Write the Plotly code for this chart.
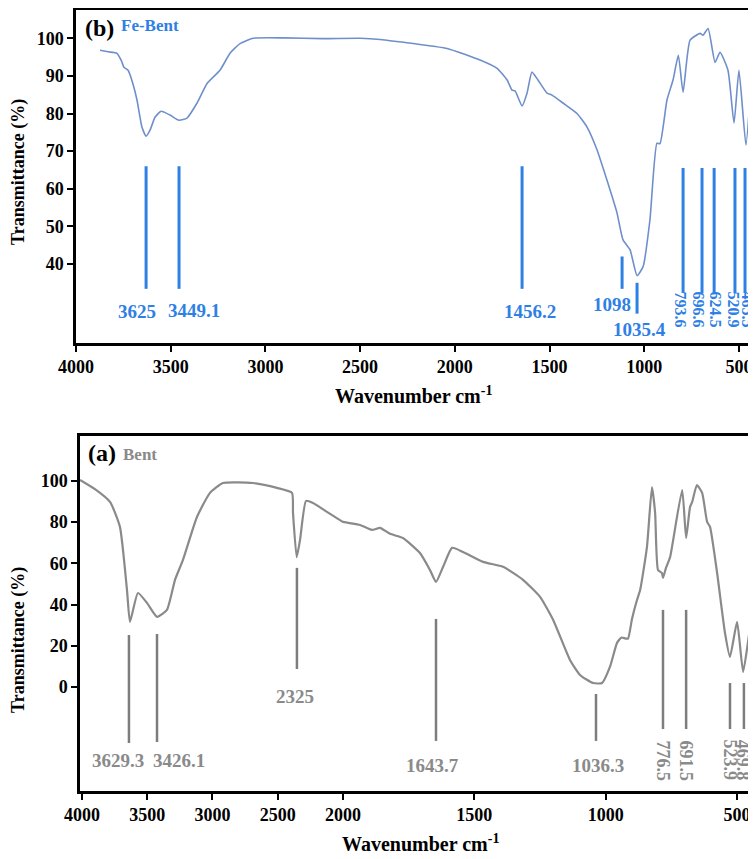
import plotly.graph_objects as go

# ---------------- data: Fe-Bent (top panel, b) ----------------
fe_wavenumber = [3873, 3830, 3784, 3760, 3747, 3725, 3700, 3678, 3652, 3630, 3609, 3583, 3551,
                 3504, 3456, 3414, 3361, 3308, 3240, 3187, 3134, 3065, 2900, 2700, 2500, 2395,
                 2220, 2041, 1867, 1777, 1724, 1698, 1682, 1645, 1619, 1593, 1561, 1513, 1487,
                 1429, 1355, 1302, 1249, 1197, 1144, 1112, 1075, 1038, 1006, 970, 933, 917, 880,
                 848, 820, 795, 758, 705, 690, 663, 626, 600, 558, 526, 500, 463, 431, 410]
fe_transmittance = [96.8, 96.4, 96.0, 94.0, 92.3, 91.5, 88.0, 83.6, 76.4, 74.0, 75.6, 79.0, 80.6,
                    79.6, 78.2, 78.8, 82.8, 88.0, 91.5, 96.0, 98.6, 100.0, 100.1, 99.9, 100.0, 99.7,
                    98.6, 97.3, 94.2, 92.0, 88.9, 86.2, 86.0, 82.0, 85.4, 91.0, 88.9, 85.4, 84.9,
                    82.8, 80.0, 76.4, 70.3, 62.3, 53.6, 46.4, 43.8, 36.9, 39.3, 51.7, 72.1, 72.0, 83.6,
                    88.9, 95.5, 85.7, 99.5, 101.3, 100.8, 102.6, 93.6, 96.3, 91.5, 77.5, 91.5, 71.6, 92.3, 107.4]

fe_peak_pos = [3630, 3456, 1645, 1117, 1038, 795, 695, 631, 521, 468]
fe_peak_top = [66, 66, 66, 42, 35, 65.5, 65.5, 65.5, 65.5, 65.5]
fe_peak_bottom = [33.4, 33.4, 33.4, 33.4, 26.8, 32.3, 32.3, 32.3, 32.3, 32.3]

fe_flat_labels = ["3625", "3449.1", "1456.2", "1098", "1035.4"]
fe_flat_label_x = [3678, 3377, 1603, 1170, 1027]
fe_flat_label_y = [27.3, 27.6, 27.3, 29.2, 22.5]
fe_rot_labels = ["793.6", "696.6", "624.5", "520.9", "465.5"]
fe_rot_label_x = [811, 716, 626, 531, 457]

# ---------------- data: Bent (bottom panel, a) ----------------
bent_wavenumber = [4015, 3900, 3785, 3709, 3655, 3632, 3571, 3502, 3425, 3349, 3287, 3226, 3119,
                   3019, 2919, 2690, 2506, 2391, 2383, 2355, 2329, 2283, 2230, 2123, 2000, 1935,
                   1890, 1859, 1821, 1772, 1707, 1669, 1646, 1619, 1585, 1543, 1467, 1391, 1315,
                   1250, 1200, 1136, 1098, 1048, 1014, 984, 957, 940, 925, 915, 900, 881, 869, 843,
                   824, 812, 801, 786, 782, 770, 755, 709, 694, 679, 671, 653, 633, 614, 603, 576,
                   546, 527, 500, 477, 450, 428]
bent_transmittance = [100.5, 96.0, 89.8, 77.7, 47.0, 31.6, 45.6, 40.8, 34.0, 37.4, 52.0, 61.7, 82.5,
                      94.2, 99.0, 99.0, 96.6, 94.2, 84.5, 63.0, 71.4, 90.3, 89.3, 85.0, 80.1, 78.6,
                      76.2, 77.2, 74.3, 72.3, 65.0, 56.8, 51.0, 58.3, 67.5, 65.5, 60.7, 58.3, 52.0,
                      43.7, 32.5, 13.1, 5.8, 1.9, 1.9, 9.7, 21.4, 24.0, 23.5, 23.5, 33.0, 42.2, 47.0, 68.0,
                      97.0, 84.5, 56.8, 55.3, 52.9, 58.0, 63.0, 95.6, 72.3, 87.4, 89.8, 98.0, 94.2, 80.1, 77.7, 55.3,
                      26.2, 14.6, 31.6, 7.3, 29.1, 40.8]

bent_left_peak_pos = [3640, 3425, 2353]
bent_left_peak_top = [25.2, 25.7, 57.8]
bent_left_peak_bottom = [-27.2, -26.7, 8.7]
bent_right_peak_pos = [1646, 1037, 782, 694, 527, 474]
bent_right_peak_top = [33.0, -3.4, 37.4, 37.4, 1.9, 1.9]
bent_right_peak_bottom = [-26.2, -26.2, -20.4, -20.4, -20.4, -20.4]

bent_left_labels = ["3629.3", "3426.1", "2325"]
bent_left_label_x = [3724, 3257, 2368]
bent_left_label_y = [-35.9, -35.9, -4.4]
bent_right_labels = ["1643.7", "1036.3"]
bent_right_label_x = [1661, 1029]
bent_right_label_y = [-37.9, -37.9]
bent_rot_labels = ["776.5", "691.5", "523.9", "469.8"]
bent_rot_label_x = [782, 694, 527, 474]

top_xticks = [4000, 3500, 3000, 2500, 2000, 1500, 1000, 500]
top_yticks = [40, 50, 60, 70, 80, 90, 100]
bot_xticks_left = [4000, 3500, 3000, 2500, 2000]
bot_xticks_right = [1500, 1000, 500]
bot_yticks = [0, 20, 40, 60, 80, 100]

# ---------------- geometry (page has an 8px body margin) ----------------
OFF = 8
W, H = 756 - OFF, 859 - OFF


def fx(px):
    return (px - OFF) / W


def fy(py):
    return 1 - (py - OFF) / H


SERIF = "Liberation Serif"
BLUE = "#2f80e4"
BLUE_LINE = "#6f8fcb"
GRAY = "#8a8a8a"
GRAY_LINE = "#7d7d7d"


def seg(xs, y0s, y1s):
    X, Y = [], []
    for x, a, b in zip(xs, y0s, y1s):
        X += [x, x, None]
        Y += [b, a, None]
    return X, Y


fig = go.Figure()

fig.add_trace(go.Scatter(x=fe_wavenumber, y=fe_transmittance, mode="lines",
                         line=dict(color=BLUE_LINE, width=1.6, shape="spline", smoothing=0.5),
                         xaxis="x", yaxis="y", showlegend=False, hoverinfo="skip"))
px_, py_ = seg(fe_peak_pos, fe_peak_top, fe_peak_bottom)
fig.add_trace(go.Scatter(x=px_, y=py_, mode="lines", line=dict(color=BLUE, width=3),
                         xaxis="x", yaxis="y", showlegend=False, hoverinfo="skip"))

for xa in ["x2", "x3"]:
    fig.add_trace(go.Scatter(x=bent_wavenumber, y=bent_transmittance, mode="lines",
                             line=dict(color=GRAY, width=2.2, shape="spline", smoothing=0.5),
                             xaxis=xa, yaxis="y2", showlegend=False, hoverinfo="skip"))
px_, py_ = seg(bent_left_peak_pos, bent_left_peak_top, bent_left_peak_bottom)
fig.add_trace(go.Scatter(x=px_, y=py_, mode="lines", line=dict(color=GRAY_LINE, width=2.5),
                         xaxis="x2", yaxis="y2", showlegend=False, hoverinfo="skip"))
px_, py_ = seg(bent_right_peak_pos, bent_right_peak_top, bent_right_peak_bottom)
fig.add_trace(go.Scatter(x=px_, y=py_, mode="lines", line=dict(color=GRAY_LINE, width=2.5),
                         xaxis="x3", yaxis="y2", showlegend=False, hoverinfo="skip"))

tickfont = dict(family=SERIF, size=18, color="black", weight="bold")
axis_common = dict(showline=True, linecolor="black", linewidth=2.5, ticks="outside",
                   ticklen=6, tickwidth=2, tickcolor="black", showgrid=False,
                   zeroline=False, tickfont=tickfont, automargin=False)

fig.update_layout(
    width=W, height=H, margin=dict(l=0, r=0, t=0, b=0), autosize=False,
    paper_bgcolor="white", plot_bgcolor="white",
    xaxis=dict(domain=[fx(76), 1], range=[4000, 410], anchor="y", mirror=True,
               tickvals=top_xticks, **axis_common),
    yaxis=dict(domain=[fy(343), 0.998], range=[19, 107.6], anchor="x",
               tickvals=top_yticks, **axis_common),
    xaxis2=dict(domain=[fx(80), fx(343)], range=[4015, 2000], anchor="y2", mirror=True,
                tickvals=bot_xticks_left, **axis_common),
    xaxis3=dict(domain=[fx(343), 1], range=[2000, 428], anchor="y2", mirror=True,
                tickvals=bot_xticks_right, **axis_common),
    yaxis2=dict(domain=[fy(791), fy(436)], range=[-50.5, 121.8], anchor="x2",
                tickvals=bot_yticks, **axis_common),
)

ann = []
lab_font_b = dict(family=SERIF, size=19, color=BLUE, weight="bold")
lab_font_g = dict(family=SERIF, size=19, color=GRAY, weight="bold")
C = dict(xanchor="center", yanchor="middle", showarrow=False)
for t, x, y in zip(fe_flat_labels, fe_flat_label_x, fe_flat_label_y):
    ann.append(dict(text=t, x=x, y=y, xref="x", yref="y", font=lab_font_b, **C))
for t, x in zip(fe_rot_labels, fe_rot_label_x):
    ann.append(dict(text=t, x=x, y=33.2, xref="x", yref="y", showarrow=False, textangle=90,
                    xanchor="center", yanchor="top", font=dict(lab_font_b, size=16)))
for t, x, y in zip(bent_left_labels, bent_left_label_x, bent_left_label_y):
    ann.append(dict(text=t, x=x, y=y, xref="x2", yref="y2", font=lab_font_g, **C))
for t, x, y in zip(bent_right_labels, bent_right_label_x, bent_right_label_y):
    ann.append(dict(text=t, x=x, y=y, xref="x3", yref="y2", font=lab_font_g, **C))
for t, x in zip(bent_rot_labels, bent_rot_label_x):
    ann.append(dict(text=t, x=x, y=-24.8, xref="x3", yref="y2", showarrow=False, textangle=90,
                    xanchor="center", yanchor="top", font=dict(lab_font_g, size=18)))

ann.append(dict(text="(b)", x=fx(83), y=fy(28), xref="paper", yref="paper", showarrow=False,
                xanchor="left", yanchor="middle",
                font=dict(family=SERIF, size=24, color="black", weight="bold")))
ann.append(dict(text="Fe-Bent", x=fx(119), y=fy(26), xref="paper", yref="paper", showarrow=False,
                xanchor="left", yanchor="middle",
                font=dict(family=SERIF, size=17, color=BLUE, weight="bold")))
ann.append(dict(text="(a)", x=fx(86), y=fy(453), xref="paper", yref="paper", showarrow=False,
                xanchor="left", yanchor="middle",
                font=dict(family=SERIF, size=24, color="black", weight="bold")))
ann.append(dict(text="Bent", x=fx(121), y=fy(455), xref="paper", yref="paper", showarrow=False,
                xanchor="left", yanchor="middle",
                font=dict(family=SERIF, size=17, color=GRAY, weight="bold")))

ytitle_font = dict(family=SERIF, size=18, color="black", weight="bold")
xtitle_font = dict(family=SERIF, size=20, color="black", weight="bold")
ann.append(dict(text="Transmittance (%)", x=fx(18), y=fy(172), xref="paper", yref="paper",
                textangle=-90, font=ytitle_font, **C))
ann.append(dict(text="Transmittance (%)", x=fx(18), y=fy(640), xref="paper", yref="paper",
                textangle=-90, font=ytitle_font, **C))
ann.append(dict(text="Wavenumber cm<sup>-1</sup>", x=fx(414), y=fy(395), xref="paper", yref="paper",
                font=xtitle_font, **C))
ann.append(dict(text="Wavenumber cm<sup>-1</sup>", x=fx(420), y=fy(843), xref="paper", yref="paper",
                font=xtitle_font, **C))

fig.update_layout(annotations=ann)
fig.write_html("out.html")
